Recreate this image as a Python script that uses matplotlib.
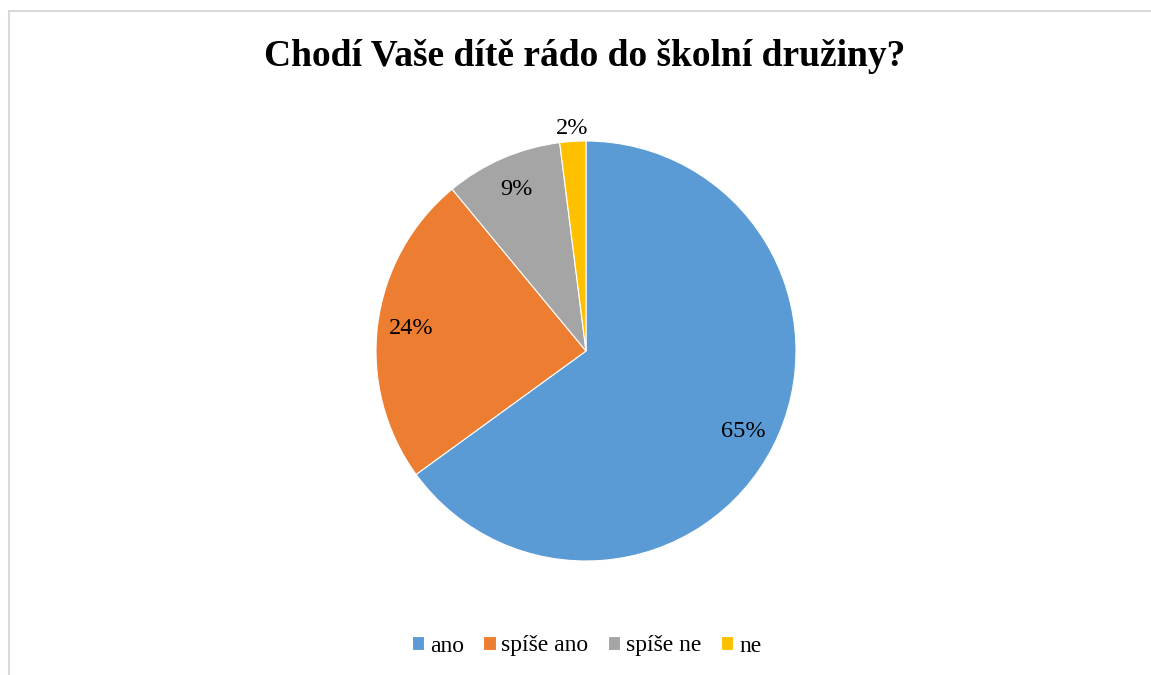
import numpy as np
import matplotlib.pyplot as plt
from matplotlib.patches import Rectangle

# data
categories = ['ano', 'spíše ano', 'spíše ne', 'ne']
values = [65, 24, 9, 2]
colors = ['#5B9BD5', '#ED7D31', '#A5A5A5', '#FFC000']
title = 'Chodí Vaše dítě rádo do školní družiny?'

plt.rcParams['font.family'] = ['Liberation Serif', 'DejaVu Serif']

fig = plt.figure(figsize=(11.51, 6.75), dpi=100)

# chart border
fig.patches.append(Rectangle((9 / 1151, -0.01), 1.02, 1 - 11 / 675 + 0.01,
                             transform=fig.transFigure, fill=False,
                             edgecolor='#D9D9D9', linewidth=1.5))

# pie axes: center (586, 351), radius 210 px
cx, cy, r = 586, 351, 210
ax = fig.add_axes([(cx - r) / 1151, 1 - (cy + r) / 675, 2 * r / 1151, 2 * r / 675])
wedges, texts, autotexts = ax.pie(values, colors=colors, startangle=90, counterclock=False,
                                  autopct='%1.0f%%', pctdistance=0.84,
                                  wedgeprops=dict(edgecolor='white', linewidth=0.8),
                                  textprops=dict(fontsize=17.5, color='#000000'),
                                  radius=1.0)
ax.set_xlim(-1, 1)
ax.set_ylim(-1, 1)
ax.set_aspect('equal')

# last (small) label sits outside the slice
w = wedges[-1]
ang = np.deg2rad((w.theta1 + w.theta2) / 2)
autotexts[-1].set_position((1.07 * np.cos(ang), 1.06 * np.sin(ang)))

fig.text(585 / 1151, 1 - 56 / 675, title, ha='center', va='center',
         fontsize=27, fontweight='bold')

leg = fig.legend(wedges, categories, loc='center', bbox_to_anchor=(586.5 / 1151, 1 - 646 / 675),
                 ncol=4, frameon=False, fontsize=17, handlelength=0.52, handleheight=0.52,
                 handletextpad=0.25, columnspacing=0.82)

fig.savefig('out.png', dpi=100)
